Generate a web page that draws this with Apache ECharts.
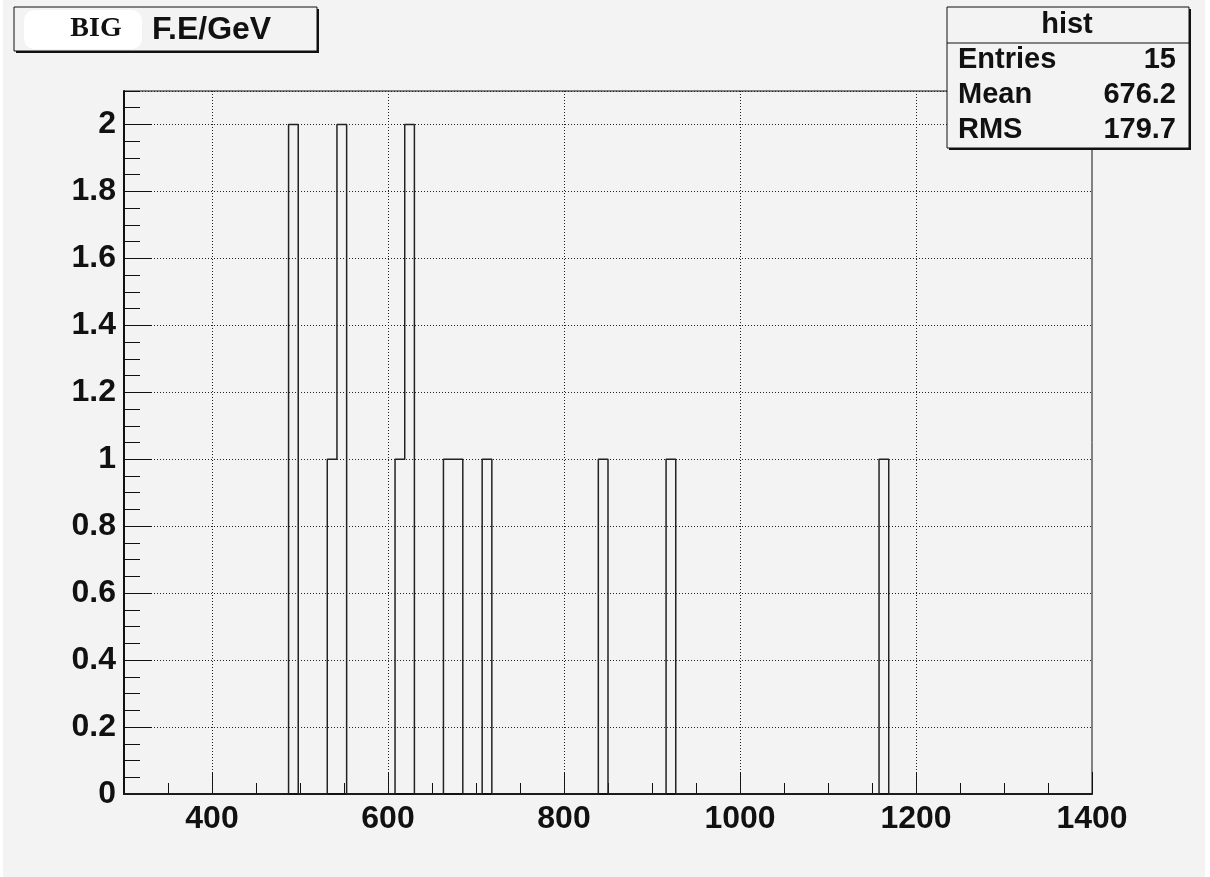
<!DOCTYPE html>
<html><head><meta charset="utf-8">
<script src="https://cdn.jsdelivr.net/npm/echarts@6/dist/echarts.min.js"></script>
<style>html,body{margin:0;padding:0;background:#fff;} #c{width:1210px;height:877px;}</style>
</head><body><div id="c"></div>
<script>
// ---- data ----
const histName = 'hist';
const titleWord = 'BIG';
const titleText = 'F.E/GeV';
const statLabels = ['Entries', 'Mean', 'RMS'];
const statValues = ['15', '676.2', '179.7'];
const xMin = 300, xMax = 1400, binWidth = 11;
const filledBinLow = [487, 531, 542, 608, 619, 663, 674, 707, 839, 916, 1158];
const filledCounts = [2, 1, 2, 1, 2, 1, 1, 1, 1, 1, 1];
const xTickValues = [400, 600, 800, 1000, 1200, 1400];
const yMin = 0, yMax = 2.1, yInterval = 0.2;

// ---- build histogram outline ----
const nBins = Math.round((xMax - xMin) / binWidth);
const counts = new Array(nBins).fill(0);
filledBinLow.forEach((lo, k) => { counts[Math.round((lo - xMin) / binWidth)] = filledCounts[k]; });
const pts = [[xMin, 0]];
for (let i = 0; i < nBins; i++) {
  const lo = xMin + i * binWidth, hi = lo + binWidth;
  pts.push([lo, counts[i]], [hi, counts[i]]);
}
pts.push([xMax, 0]);

const SANS = '"Liberation Sans", Arial, Helvetica, sans-serif';
const SERIF = '"Liberation Serif", "Times New Roman", serif';
const BG = '#f3f3f3';

const chart = echarts.init(document.getElementById('c'), null, {renderer: 'canvas'});
const statRowsY = [60, 95, 130];
const graphics = [
  // white page edges
  {type: 'rect', shape: {x: 0, y: 0, width: 3, height: 877}, style: {fill: '#fff'}, silent: true},
  {type: 'rect', shape: {x: 1205, y: 0, width: 5, height: 877}, style: {fill: '#fff'}, silent: true},
  // title box
  {type: 'rect', shape: {x: 16, y: 9, width: 303, height: 44}, style: {fill: '#111'}, z: 10},
  {type: 'rect', shape: {x: 14, y: 7, width: 303, height: 44}, style: {fill: BG, stroke: '#111', lineWidth: 1}, z: 11},
  {type: 'rect', shape: {x: 24, y: 10, width: 118, height: 39, r: 10}, style: {fill: '#fff'}, z: 12},
  {type: 'text', x: 96, y: 29, style: {text: titleWord, font: 'bold 28px ' + SERIF, fill: '#111', align: 'center', verticalAlign: 'middle'}, z: 13},
  {type: 'text', x: 152, y: 30, style: {text: titleText, font: 'bold 32px ' + SANS, fill: '#111', align: 'left', verticalAlign: 'middle'}, z: 13},
  // stats box
  {type: 'rect', shape: {x: 949, y: 9, width: 242, height: 141}, style: {fill: '#111'}, z: 10},
  {type: 'rect', shape: {x: 947, y: 7, width: 242, height: 141}, style: {fill: BG, stroke: '#111', lineWidth: 1}, z: 11},
  {type: 'line', shape: {x1: 947, y1: 43, x2: 1189, y2: 43}, style: {stroke: '#111', lineWidth: 1}, z: 12},
  {type: 'text', x: 1067, y: 25, style: {text: histName, font: 'bold 29px ' + SANS, fill: '#111', align: 'center', verticalAlign: 'middle'}, z: 13}
];
statLabels.forEach((lab, i) => {
  graphics.push({type: 'text', x: 958, y: statRowsY[i], style: {text: lab, font: 'bold 29px ' + SANS, fill: '#111', align: 'left', verticalAlign: 'middle'}, z: 13});
  graphics.push({type: 'text', x: 1176, y: statRowsY[i], style: {text: statValues[i], font: 'bold 29px ' + SANS, fill: '#111', align: 'right', verticalAlign: 'middle'}, z: 13});
});

const gridLine = {color: '#222', width: 1, type: [1, 2]};
chart.setOption({
  animation: false,
  backgroundColor: BG,
  grid: {left: 124, top: 91, width: 968, height: 703, show: true, borderColor: '#111', borderWidth: 1, backgroundColor: 'transparent', containLabel: false},
  xAxis: [
    {
      type: 'value', min: xMin, max: xMax, interval: 100,
      axisLine: {show: true, onZero: false, lineStyle: {color: '#111', width: 2}},
      axisTick: {show: true, inside: true, length: 22, customValues: xTickValues, lineStyle: {color: '#111', width: 1}},
      axisLabel: {show: true, customValues: xTickValues, margin: 9, color: '#111', fontFamily: SANS, fontWeight: 'bold', fontSize: 32,
        formatter: v => String(v)},
      splitLine: {show: false}
    },
    {
      type: 'value', min: xMin, max: xMax, interval: 50, position: 'bottom',
      axisLine: {show: false},
      axisTick: {show: true, inside: true, length: 11, lineStyle: {color: '#111', width: 1}},
      axisLabel: {show: false},
      splitLine: {show: false}
    }
  ],
  yAxis: [
    {
      type: 'value', min: yMin, max: yMax, interval: yInterval,
      axisLine: {show: true, onZero: false, lineStyle: {color: '#111', width: 2}},
      axisTick: {show: true, inside: true, length: 28, lineStyle: {color: '#111', width: 1}},
      axisLabel: {show: true, showMaxLabel: false, margin: 8, color: '#111', fontFamily: SANS, fontWeight: 'bold', fontSize: 32,
        formatter: v => String(Math.round(v * 10) / 10)},
      splitLine: {show: true, lineStyle: gridLine}
    },
    {
      type: 'value', min: yMin, max: yMax, interval: 0.05, position: 'left',
      axisLine: {show: false},
      axisTick: {show: true, inside: true, length: 16, lineStyle: {color: '#111', width: 1}},
      axisLabel: {show: false},
      splitLine: {show: false}
    }
  ],
  series: [{
    type: 'line', xAxisIndex: 0, yAxisIndex: 0, data: pts,
    symbol: 'none', showSymbol: false, z: 3,
    lineStyle: {color: '#222', width: 1.5},
    markLine: {
      silent: true, symbol: ['none', 'none'], label: {show: false},
      lineStyle: gridLine, animation: false,
      data: xTickValues.filter(v => v < xMax).map(v => ({xAxis: v}))
    }
  }],
  graphic: graphics
});
</script>
</body></html>
